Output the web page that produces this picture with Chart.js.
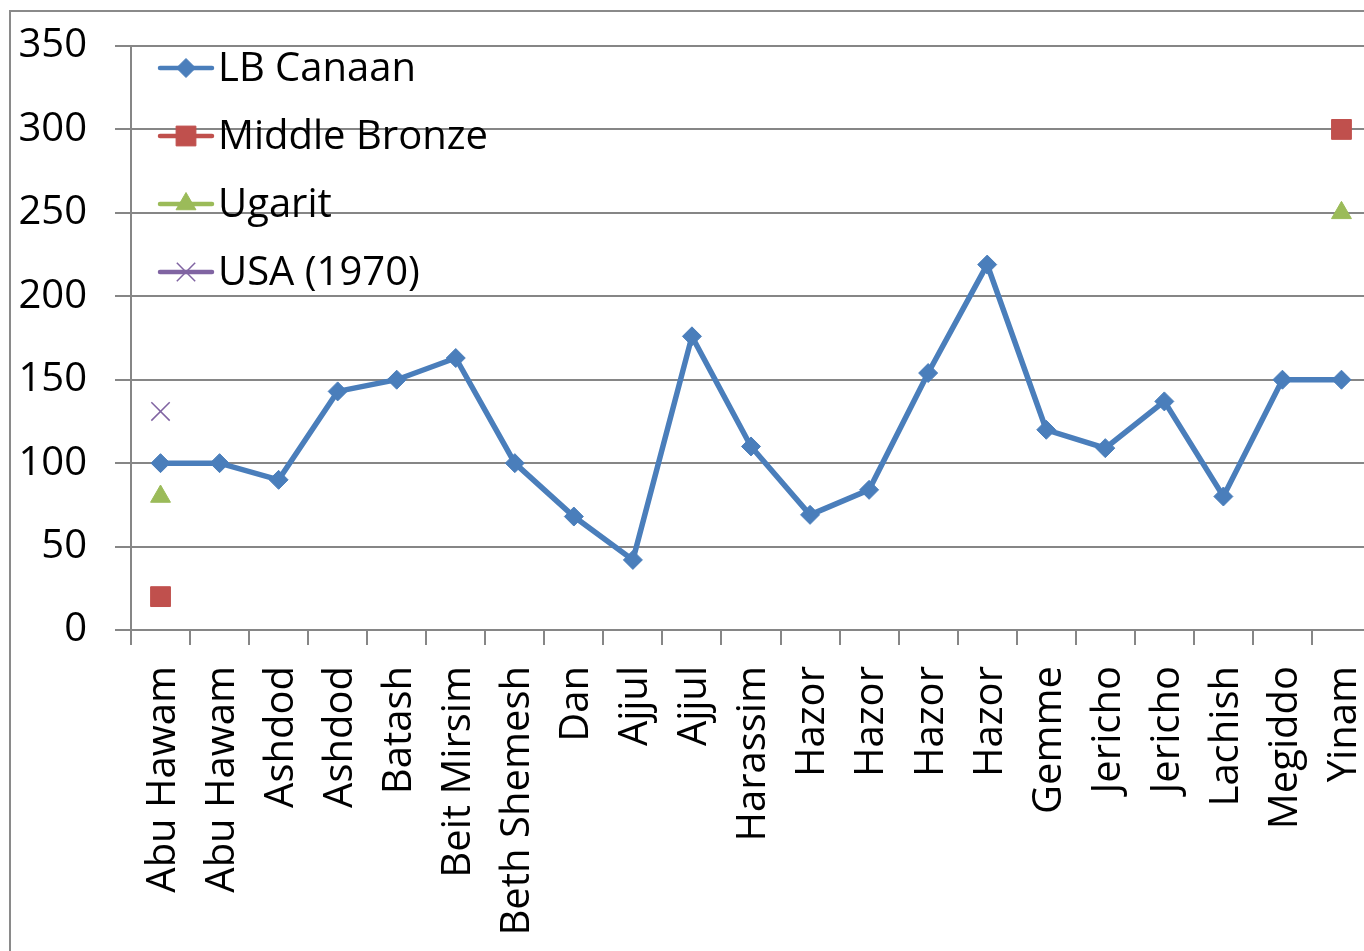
<!DOCTYPE html>
<html><head><meta charset="utf-8">
<script src="https://cdn.jsdelivr.net/npm/chart.js@4/dist/chart.umd.min.js"></script>
<style>html,body{margin:0;padding:0;overflow:hidden;background:#fff}#wrap{width:1372px;height:951px}</style>
</head><body><div id="wrap"><canvas id="c" width="1372" height="951"></canvas></div>
<script>
const categories = ["Abu Hawam","Abu Hawam","Ashdod","Ashdod","Batash","Beit Mirsim","Beth Shemesh","Dan","Ajjul","Ajjul","Harassim","Hazor","Hazor","Hazor","Hazor","Gemme","Jericho","Jericho","Lachish","Megiddo","Yinam"];
const lbCanaan = [100,100,90,143,150,163,100,68,42,176,110,69,84,154,219,120,109,137,80,150,150];
const middleBronze = [20,null,null,null,null,null,null,null,null,null,null,null,null,null,null,null,null,null,null,null,300];
const ugarit = [80,null,null,null,null,null,null,null,null,null,null,null,null,null,null,null,null,null,null,null,250];
const usa1970 = [131,null,null,null,null,null,null,null,null,null,null,null,null,null,null,null,null,null,null,null,null];
const seriesNames = ["LB Canaan","Middle Bronze","Ugarit","USA (1970)"];
const yMin = 0, yMax = 350, yStep = 50;

const FONT = "'Open Sans', 'Liberation Sans', sans-serif";
const GRID = '#868686';

const borderPlugin = {
  id: 'outerBorder',
  beforeDraw(chart) {
    const ctx = chart.ctx;
    ctx.save();
    ctx.strokeStyle = '#8a8a8a';
    ctx.lineWidth = 2;
    ctx.strokeRect(10, 11, 1500, 1100);
    ctx.restore();
  }
};

const legendPlugin = {
  id: 'insideLegend',
  afterDraw(chart) {
    const ctx = chart.ctx;
    ctx.save();
    chart.data.datasets.forEach((ds, i) => {
      const y = 68 + i * 68;
      ctx.strokeStyle = ds.borderColor;
      ctx.lineWidth = 4.5;
      ctx.lineCap = 'round';
      ctx.beginPath(); ctx.moveTo(160, y); ctx.lineTo(212, y); ctx.stroke();
      ctx.fillStyle = ds.pointBackgroundColor;
      ctx.strokeStyle = ds.pointBorderColor;
      ctx.lineWidth = ds.pointBorderWidth;
      ctx.lineCap = 'butt';
      if (Chart.helpers && Chart.helpers.drawPoint) {
        Chart.helpers.drawPoint(ctx, {pointStyle: ds.pointStyle, radius: ds.pointRadius, rotation: 0, borderWidth: ds.pointBorderWidth}, 186, y);
      }
      ctx.fillStyle = '#000';
      ctx.font = '40px ' + FONT;
      ctx.textBaseline = 'middle';
      ctx.textAlign = 'left';
      ctx.fillText(ds.label, 218, y + 2);
    });
    ctx.restore();
  }
};

new Chart(document.getElementById('c'), {
  type: 'line',
  data: {
    labels: categories,
    datasets: [
      {label: seriesNames[0], data: lbCanaan, borderColor: '#4A7EBB', backgroundColor: '#4A7EBB', borderWidth: 5.5,
       pointStyle: 'rectRot', pointRadius: 9.5, pointBackgroundColor: '#4A7EBB', pointBorderColor: '#4A7EBB', pointBorderWidth: 1, tension: 0, order: 4},
      {label: seriesNames[1], data: middleBronze, borderColor: '#C0504D', backgroundColor: '#C0504D', borderWidth: 4,
       pointStyle: 'rect', pointRadius: 14, pointBackgroundColor: '#C0504D', pointBorderColor: '#C0504D', pointBorderWidth: 1, spanGaps: false, order: 3},
      {label: seriesNames[2], data: ugarit, borderColor: '#9BBB59', backgroundColor: '#9BBB59', borderWidth: 4,
       pointStyle: 'triangle', pointRadius: 11.5, pointBackgroundColor: '#9BBB59', pointBorderColor: '#9BBB59', pointBorderWidth: 1, spanGaps: false, order: 2},
      {label: seriesNames[3], data: usa1970, borderColor: '#8064A2', backgroundColor: '#8064A2', borderWidth: 4,
       pointStyle: 'crossRot', pointRadius: 13, pointBackgroundColor: '#8064A2', pointBorderColor: '#8064A2', pointBorderWidth: 1.5, spanGaps: false, order: 1}
    ]
  },
  options: {
    responsive: false,
    animation: false,
    devicePixelRatio: 1,
    layout: {autoPadding: false, padding: {top: 46, right: 1, bottom: 0, left: 0}},
    plugins: {legend: {display: false}, tooltip: {enabled: false}},
    elements: {point: {hoverRadius: 9}},
    clip: false,
    scales: {
      x: {
        type: 'category',
        offset: true,
        grid: {offset: true, drawOnChartArea: false, tickLength: 15, color: GRID, lineWidth: 2},
        border: {color: GRID, width: 2},
        ticks: {minRotation: 90, maxRotation: 90, autoSkip: false, labelOffset: 3, color: '#000', font: {family: FONT, size: 40}, padding: 21},
        afterFit(s) { s.height = 321; s.paddingLeft = 0; s.paddingRight = 0; }
      },
      y: {
        min: yMin, max: yMax,
        ticks: {stepSize: yStep, color: '#000', font: {family: FONT, size: 40}, padding: 28},
        grid: {color: GRID, lineWidth: 2, tickLength: 16},
        border: {color: GRID, width: 2},
        afterFit(s) { s.width = 131; s.paddingTop = 0; s.paddingBottom = 0; }
      }
    }
  },
  plugins: [borderPlugin, legendPlugin]
});
</script>
</body></html>
